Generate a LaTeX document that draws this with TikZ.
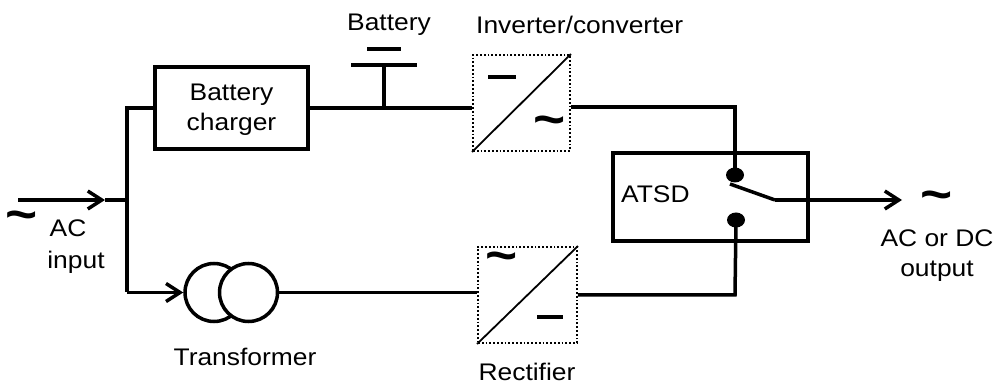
\documentclass[tikz,border=0pt]{standalone}
\usepackage{fontspec}
\setmainfont{Liberation Sans}[FakeStretch=1.1]
\usetikzlibrary{arrows.meta}

\tikzset{
  wire/.style={line width=3.5pt},
  blockbox/.style={draw, line width=3.5pt, inner sep=0pt},
  convbox/.style={draw, dotted, line width=1.8pt, inner sep=0pt, minimum width=97pt, minimum height=96pt},
  coil/.style={draw, circle, fill=white, line width=3.5pt, minimum size=58pt, inner sep=0pt},
  lbl/.style={font=\fontsize{24}{30}\selectfont, align=center, inner sep=0pt},
  tld/.style={font=\fontsize{50}{50}\selectfont\bfseries, inner sep=0pt},
  barb/.style={-{Straight Barb[length=14pt,width=18pt,line width=3.5pt]}}
}

\begin{document}
\begin{tikzpicture}[x=1pt, y=-1pt]
\useasboundingbox (0,0) rectangle (996,387);

% blocks
\node [blockbox, minimum width=153pt, minimum height=82pt] (charger) at (231.5, 108) {};
\node [lbl] (chargerTxt) at (231.5, 110) {Battery\\charger};
\node [convbox] (inv) at (521.5, 103) {};
\node [convbox, minimum width=99pt] (rect) at (527.5, 295) {};
\node [blockbox, minimum width=195pt, minimum height=88pt] (atsd) at (710.5, 197) {};
\node [lbl, anchor=west] (atsdTxt) at (621, 194) {ATSD};
\node [coil] (trA) at (214, 292.5) {};
\node [coil] (trB) at (248.5, 292.5) {};

% converter symbols
\draw [line width=1.8pt] (inv.south west) -- (inv.north east);
\draw [line width=1.8pt] (rect.south west) -- (rect.north east);
\draw [wire] (488, 77) -- (516, 77);
\node [tld] (invAC) at (550, 126) {\textasciitilde};
\draw [wire] (537, 317) -- (563, 317);
\node [tld] (rectAC) at (502, 262) {\textasciitilde};

% labels
\node [lbl] (battLbl) at (389, 25) {Battery};
\node [lbl, anchor=west] (invLbl) at (476, 25) {Inverter/converter};
\node [lbl] (trLbl) at (245, 357) {Transformer};
\node [lbl] (rectLbl) at (527, 372) {Rectifier};
\node [tld] (inAC) at (22, 221) {\textasciitilde};
\node [lbl] (inLbl) at (68, 228) {AC};
\node [lbl] (inLbl2) at (76, 262) {input};
\node [tld] (outAC) at (937, 201) {\textasciitilde};
\node [lbl] (outLbl) at (937, 256) {AC or DC\\output};

% input side
\coordinate (in) at (18, 200);
\coordinate (inTip) at (105, 200);
\coordinate (busTop) at (127, 108);
\coordinate (busMid) at (127, 200);
\coordinate (busBot) at (127, 292.5);
\draw [wire, barb] (in) -- (inTip);
\draw [wire] (inTip) -- (busMid);
\draw [wire] (charger.west) -- (busTop) -- (busBot);
\draw [wire, barb] (busBot) -- (trA.west);

% battery
\coordinate (batt) at (384, 108);
\coordinate (battTop) at (384, 65);
\draw [wire] (charger.east) -- (charger.east -| inv.west);
\draw [wire] (batt) -- (battTop);
\draw [wire] (351, 65) -- (417, 65);
\draw [wire] (367, 49) -- (401, 49);

% switch contacts
\coordinate (dotA) at (735, 175);
\coordinate (dotB) at (736, 220);
\coordinate (arm) at (775, 200);
\coordinate (outTip) at (902, 200);
\fill (dotA) ellipse [x radius=9, y radius=7.5];
\fill (dotB) ellipse [x radius=9, y radius=7.5];
\draw [wire] (inv.east |- 0,107) -- (735, 107) -- (dotA);
\draw [wire] (rect.east |- 0,295) -- (735, 295) -- (dotB);
\draw [wire] (730, 184) -- (arm);
\draw [wire, barb] (arm) -- (outTip);

% transformer to rectifier
\draw [wire] (trB.east) -- (trB.east -| rect.west);
\end{tikzpicture}
\end{document}
